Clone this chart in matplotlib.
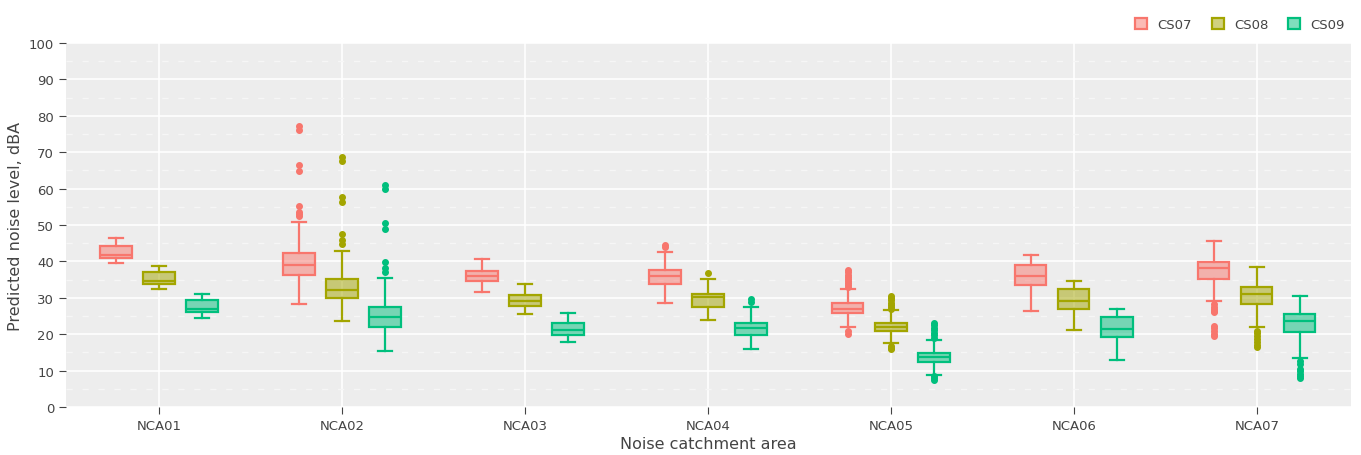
import matplotlib.pyplot as plt
from matplotlib.patches import Patch
from matplotlib import colors as mcolors

# === DATA ===
areas = ['NCA01', 'NCA02', 'NCA03', 'NCA04', 'NCA05', 'NCA06', 'NCA07']
scenarios = ['CS07', 'CS08', 'CS09']

cs07_low = [39.6, 28.3, 31.6, 28.6, 22.1, 26.4, 29.1]
cs07_q1 = [40.8, 36.4, 34.5, 33.8, 25.7, 33.5, 35.3]
cs07_med = [41.8, 39.1, 35.9, 36.0, 26.9, 36.1, 38.1]
cs07_q3 = [44.3, 42.4, 37.4, 37.7, 28.6, 39.0, 39.8]
cs07_high = [46.3, 50.8, 40.6, 42.6, 32.5, 41.7, 45.5]
cs07_out = [[],
            [77.3, 76.2, 66.6, 64.7, 55.3, 53.7, 53.0, 52.4],
            [],
            [44.5, 43.9],
            [37.6, 37.0, 36.4, 35.8, 35.2, 34.6, 34.0, 33.4, 32.9, 20.1, 21.0],
            [],
            [28.3, 27.6, 27.0, 26.4, 26.0, 22.3, 21.6, 20.8, 20.0, 19.4]]

cs08_low = [32.4, 23.7, 25.5, 24.0, 17.5, 21.1, 22.1]
cs08_q1 = [33.7, 30.0, 27.7, 27.5, 20.8, 26.9, 28.3]
cs08_med = [34.6, 32.1, 29.1, 30.1, 22.1, 29.2, 31.0]
cs08_q3 = [37.2, 35.3, 30.8, 31.0, 23.2, 32.5, 33.0]
cs08_high = [38.6, 42.9, 33.7, 35.3, 26.7, 34.7, 38.4]
cs08_out = [[],
            [68.6, 67.7, 57.8, 56.2, 47.5, 45.8, 44.8],
            [],
            [36.8],
            [30.5, 29.9, 29.3, 28.7, 28.1, 27.5, 27.0, 16.8, 16.2, 15.8],
            [],
            [21.0, 20.2, 19.4, 18.6, 17.8, 17.0, 16.5]]

cs09_low = [24.5, 15.4, 17.9, 15.8, 8.9, 12.9, 13.5]
cs09_q1 = [26.0, 22.1, 19.8, 19.8, 12.4, 19.2, 20.7]
cs09_med = [26.9, 24.6, 21.2, 21.8, 13.6, 21.4, 23.5]
cs09_q3 = [29.5, 27.6, 23.1, 23.2, 14.9, 24.8, 25.5]
cs09_high = [31.1, 35.4, 25.9, 27.5, 18.5, 26.9, 30.6]
cs09_out = [[],
            [61.1, 59.9, 50.5, 48.9, 39.9, 38.1, 37.0],
            [],
            [29.7, 28.8],
            [23.2, 22.5, 21.8, 21.1, 20.4, 19.7, 19.0, 8.6, 8.0, 7.4],
            [],
            [12.7, 11.8, 10.4, 9.8, 9.2, 8.6, 8.0]]

series = [
    (cs07_low, cs07_q1, cs07_med, cs07_q3, cs07_high, cs07_out),
    (cs08_low, cs08_q1, cs08_med, cs08_q3, cs08_high, cs08_out),
    (cs09_low, cs09_q1, cs09_med, cs09_q3, cs09_high, cs09_out),
]
palette = ['#F8766D', '#A3A500', '#00BF7D']

# === PLOT ===
plt.rcParams['font.family'] = ['DejaVu Sans']
fig = plt.figure(figsize=(13.61, 4.56), dpi=100)
ax = fig.add_axes([66 / 1361, 48 / 456, 1285 / 1361, 364 / 456])
ax.set_facecolor('#EDEDED')

offsets = [-0.235, 0.0, 0.235]
box_w = 0.17

for k, (low, q1, med, q3, high, out) in enumerate(series):
    c = palette[k]
    stats = []
    for i in range(len(areas)):
        stats.append({'whislo': low[i], 'q1': q1[i], 'med': med[i], 'q3': q3[i],
                      'whishi': high[i], 'fliers': out[i]})
    pos = [i + offsets[k] for i in range(len(areas))]
    ax.bxp(stats, positions=pos, widths=box_w, capwidths=box_w * 0.45,
           patch_artist=True, showfliers=True, manage_ticks=False,
           boxprops={'facecolor': mcolors.to_rgba(c, 0.5), 'edgecolor': c, 'linewidth': 1.6},
           medianprops={'color': c, 'linewidth': 1.6},
           whiskerprops={'color': c, 'linewidth': 1.6},
           capprops={'color': c, 'linewidth': 1.6},
           flierprops={'marker': 'o', 'markerfacecolor': c, 'markeredgecolor': c,
                       'markersize': 4, 'linestyle': 'none'})

ax.set_xlim(-0.508, 6.514)
ax.set_ylim(0, 100)
ax.set_xticks(range(len(areas)))
ax.set_xticklabels(areas)
ax.set_yticks(range(0, 101, 10))
ax.set_yticks(range(5, 100, 10), minor=True)
ax.tick_params(axis='both', which='major', labelsize=9.5, colors='#444444', length=5, width=0.8)
ax.tick_params(axis='y', which='minor', length=0)
ax.xaxis.grid(True, which='major', color='white', linewidth=1.2)
ax.yaxis.grid(True, which='major', color='white', linewidth=1.2)
ax.yaxis.grid(True, which='minor', color='#F6F6F6', linewidth=1, linestyle=(0, (4.5, 7)))
ax.set_axisbelow(True)
for s in ax.spines.values():
    s.set_visible(False)

ax.set_xlabel('Noise catchment area', fontsize=11.5, color='#444444', labelpad=3)
ax.set_ylabel('Predicted noise level, dBA', fontsize=11.5, color='#444444', labelpad=4)

handles = [Patch(facecolor=mcolors.to_rgba(c, 0.5), edgecolor=c, linewidth=1.6) for c in palette]
fig.legend(handles, scenarios, loc='upper right', bbox_to_anchor=(0.997, 0.985), ncol=3,
           frameon=False, fontsize=9.5, handlelength=0.9, handleheight=0.9,
           columnspacing=1.5, handletextpad=0.8, labelcolor='#444444')

plt.savefig('out.png', dpi=100)
